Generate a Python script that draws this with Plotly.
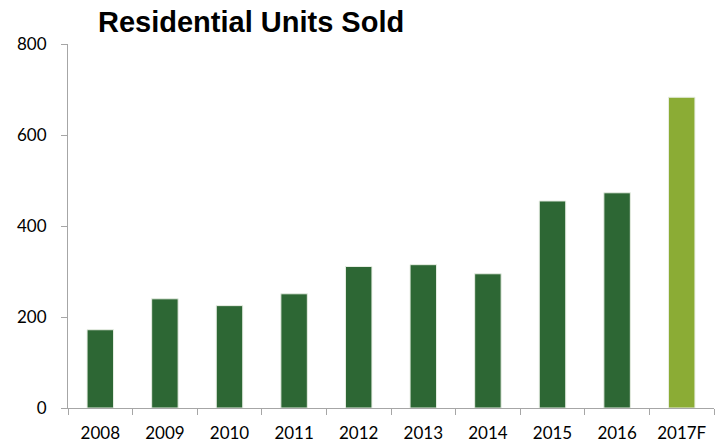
import plotly.graph_objects as go

years = ["2008", "2009", "2010", "2011", "2012", "2013", "2014", "2015", "2016", "2017F"]
units = [172, 240, 225, 251, 311, 315, 295, 455, 473, 683]
bar_colors = ["#2D6734"] * 9 + ["#8BAC35"]
y_ticks = [0, 200, 400, 600, 800]

fig = go.Figure(go.Bar(
    x=years, y=units,
    marker=dict(color=bar_colors, line=dict(color="#E8EEE4", width=1)),
    width=0.41,
))

axis_gray = "#A6A6A6"
fig.update_layout(
    width=719, height=444,
    margin=dict(l=68, r=5, t=44, b=36),
    paper_bgcolor="white", plot_bgcolor="white",
    showlegend=False,
    font=dict(family="Lato, Carlito, sans-serif", size=17, color="#000000"),
    title=dict(
        text="<b>Residential Units Sold</b>",
        font=dict(family="Liberation Sans, Arial, sans-serif", size=29, color="#000000"),
        xref="container", yref="container",
        x=98/719, xanchor="left",
        y=1 - 22/444, yanchor="middle",
    ),
    xaxis=dict(
        type="category",
        showline=True, linecolor=axis_gray, linewidth=1,
        ticks="outside", ticklen=6, tickcolor=axis_gray,
        tickson="boundaries",
        showgrid=False, zeroline=False,
        range=[-0.5, 9.5],
        ticklabelstandoff=10,
        automargin=False,
    ),
    yaxis=dict(
        range=[0, 800],
        tickvals=y_ticks,
        showline=True, linecolor=axis_gray, linewidth=1,
        ticks="outside", ticklen=6, tickcolor=axis_gray,
        showgrid=False, zeroline=False,
        ticklabelstandoff=11,
        automargin=False,
    ),
)

fig.write_html("out.html")
